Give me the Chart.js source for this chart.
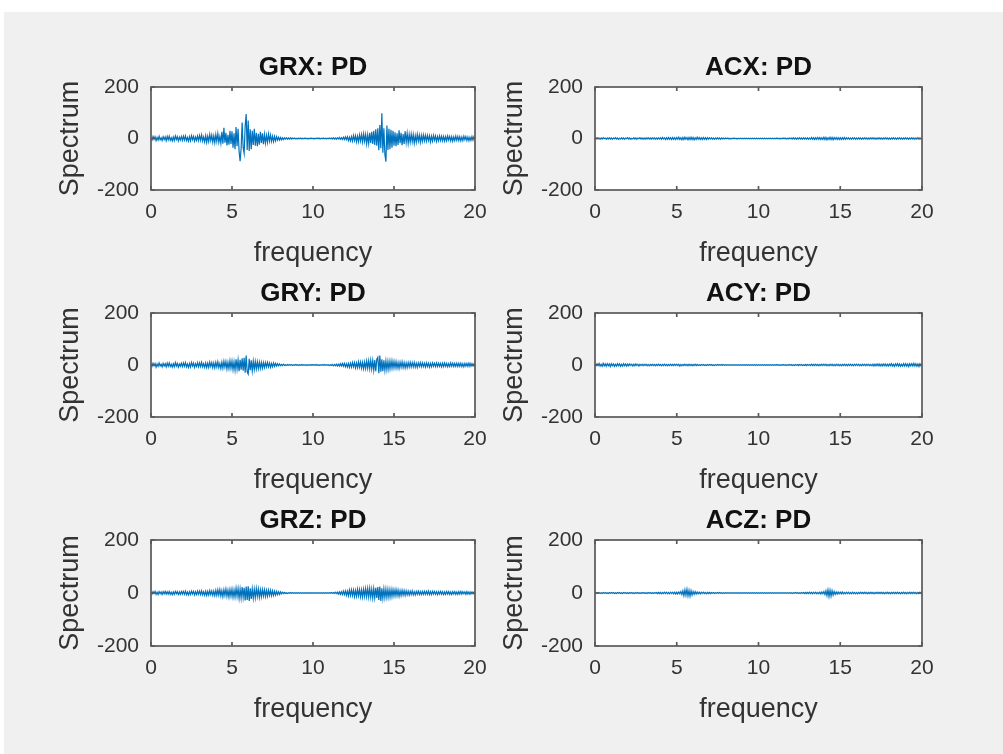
<!DOCTYPE html>
<html>
<head>
<meta charset="utf-8">
<script src="https://cdn.jsdelivr.net/npm/chart.js@4.4.1/dist/chart.umd.min.js"></script>
<style>
  body { margin: 0; background: #fff; width: 1003px; height: 754px; overflow: hidden; position: relative; }
  #panel { position: absolute; left: 4px; top: 12px; width: 999px; height: 742px; background: #f0f0f0; }
  canvas { position: absolute; }
</style>
</head>
<body>
<div id="panel"></div>
<canvas id="grx"></canvas>
<canvas id="acx"></canvas>
<canvas id="gry"></canvas>
<canvas id="acy"></canvas>
<canvas id="grz"></canvas>
<canvas id="acz"></canvas>
<script>
// frequency axis, one row per unit
const freq = [
  0, 0.0625, 0.125, 0.1875, 0.25, 0.3125, 0.375, 0.4375, 0.5, 0.5625, 0.625, 0.6875, 0.75, 0.8125, 0.875, 0.9375,
  1, 1.0625, 1.125, 1.1875, 1.25, 1.3125, 1.375, 1.4375, 1.5, 1.5625, 1.625, 1.6875, 1.75, 1.8125, 1.875, 1.9375,
  2, 2.0625, 2.125, 2.1875, 2.25, 2.3125, 2.375, 2.4375, 2.5, 2.5625, 2.625, 2.6875, 2.75, 2.8125, 2.875, 2.9375,
  3, 3.0625, 3.125, 3.1875, 3.25, 3.3125, 3.375, 3.4375, 3.5, 3.5625, 3.625, 3.6875, 3.75, 3.8125, 3.875, 3.9375,
  4, 4.0625, 4.125, 4.1875, 4.25, 4.3125, 4.375, 4.4375, 4.5, 4.5625, 4.625, 4.6875, 4.75, 4.8125, 4.875, 4.9375,
  5, 5.0625, 5.125, 5.1875, 5.25, 5.3125, 5.375, 5.4375, 5.5, 5.5625, 5.625, 5.6875, 5.75, 5.8125, 5.875, 5.9375,
  6, 6.0625, 6.125, 6.1875, 6.25, 6.3125, 6.375, 6.4375, 6.5, 6.5625, 6.625, 6.6875, 6.75, 6.8125, 6.875, 6.9375,
  7, 7.0625, 7.125, 7.1875, 7.25, 7.3125, 7.375, 7.4375, 7.5, 7.5625, 7.625, 7.6875, 7.75, 7.8125, 7.875, 7.9375,
  8, 8.0625, 8.125, 8.1875, 8.25, 8.3125, 8.375, 8.4375, 8.5, 8.5625, 8.625, 8.6875, 8.75, 8.8125, 8.875, 8.9375,
  9, 9.0625, 9.125, 9.1875, 9.25, 9.3125, 9.375, 9.4375, 9.5, 9.5625, 9.625, 9.6875, 9.75, 9.8125, 9.875, 9.9375,
  10, 10.0625, 10.125, 10.1875, 10.25, 10.3125, 10.375, 10.4375, 10.5, 10.5625, 10.625, 10.6875, 10.75, 10.8125, 10.875, 10.9375,
  11, 11.0625, 11.125, 11.1875, 11.25, 11.3125, 11.375, 11.4375, 11.5, 11.5625, 11.625, 11.6875, 11.75, 11.8125, 11.875, 11.9375,
  12, 12.0625, 12.125, 12.1875, 12.25, 12.3125, 12.375, 12.4375, 12.5, 12.5625, 12.625, 12.6875, 12.75, 12.8125, 12.875, 12.9375,
  13, 13.0625, 13.125, 13.1875, 13.25, 13.3125, 13.375, 13.4375, 13.5, 13.5625, 13.625, 13.6875, 13.75, 13.8125, 13.875, 13.9375,
  14, 14.0625, 14.125, 14.1875, 14.25, 14.3125, 14.375, 14.4375, 14.5, 14.5625, 14.625, 14.6875, 14.75, 14.8125, 14.875, 14.9375,
  15, 15.0625, 15.125, 15.1875, 15.25, 15.3125, 15.375, 15.4375, 15.5, 15.5625, 15.625, 15.6875, 15.75, 15.8125, 15.875, 15.9375,
  16, 16.0625, 16.125, 16.1875, 16.25, 16.3125, 16.375, 16.4375, 16.5, 16.5625, 16.625, 16.6875, 16.75, 16.8125, 16.875, 16.9375,
  17, 17.0625, 17.125, 17.1875, 17.25, 17.3125, 17.375, 17.4375, 17.5, 17.5625, 17.625, 17.6875, 17.75, 17.8125, 17.875, 17.9375,
  18, 18.0625, 18.125, 18.1875, 18.25, 18.3125, 18.375, 18.4375, 18.5, 18.5625, 18.625, 18.6875, 18.75, 18.8125, 18.875, 18.9375,
  19, 19.0625, 19.125, 19.1875, 19.25, 19.3125, 19.375, 19.4375, 19.5, 19.5625, 19.625, 19.6875, 19.75, 19.8125, 19.875, 19.9375,
  20
];

const grx = [
  1, -6, 8, -3, 7, -8, 4, -6, 9, -5, 3, -8, 7, -4, 6, -9,
  8, -5, 9, -7, 3, -9, 6, -8, 10, -4, 7, -9, 5, -6, 8, -7,
  9, -6, 10, -8, 4, -10, 7, -9, 11, -5, 8, -10, 6, -7, 10, -8,
  12, -7, 14, -10, 6, -13, 11, -15, 9, -12, 16, -8, 13, -14, 10, -16,
  15, -11, 19, -14, 8, -18, 26, -20, 42, -16, 22, -27, 14, -24, 30, -21,
  28, -36, 20, -42, 45, -30, 38, -50, -88, -40, 62, -35, -58, 48, 95, -45,
  70, -48, 36, -42, 30, -25, 38, -28, 22, -30, 18, -24, 26, -17, 20, -22,
  16, -18, 12, -15, 17, -10, 13, -11, 9, -12, 8, -9, 7, -6, 5, -6,
  4, -5, 3, -4, 3, -2, 3, -3, 2, -2, 3, -2, 2, -1, 2, -2,
  1, -2, 2, -1, 2, -2, 1, -1, 2, -1, 1, -2, 1, -1, 2, -1,
  1, -2, 1, -1, 2, -1, 2, -2, 1, -1, 2, -1, 1, -2, 1, -1,
  2, -1, 2, -2, 3, -2, 2, -3, 3, -2, 4, -3, 3, -4, 5, -4,
  6, -4, 7, -8, 5, -9, 7, -10, 12, -8, 11, -13, 9, -12, 14, -10,
  15, -13, 18, -11, 16, -20, 14, -19, 22, -17, 26, -21, 30, -25, 36, -28,
  40, -46, 52, -38, 98, -55, 40, -62, -90, 50, -45, 38, -42, 34, -36, 30,
  -28, 24, -30, 20, -25, 32, -18, 22, -26, 17, -21, 28, -15, 20, -18, 16,
  -14, 17, -12, 15, -18, 11, -14, 16, -10, 13, -15, 12, -11, 14, -9, 12,
  -10, 12, -8, 11, -13, 9, -10, 12, -7, 10, -11, 8, -9, 10, -8, 9,
  -9, 8, -10, 7, -9, 10, -6, 8, -9, 7, -10, 6, -8, 9, -7, 8,
  -8, 7, -9, 6, -8, 9, -5, 7, -8, 6, -9, 5, -7, 8, -6, 7,
  -3
];

const gry = [
  2, -5, 7, -3, 6, -8, 4, -5, 8, -4, 3, -7, 6, -4, 5, -7,
  7, -5, 8, -6, 3, -8, 5, -7, 9, -4, 6, -8, 4, -5, 7, -6,
  8, -5, 9, -7, 4, -9, 6, -8, 10, -4, 7, -9, 5, -6, 9, -7,
  8, -6, 10, -7, 5, -9, 8, -10, 7, -9, 11, -6, 9, -10, 8, -11,
  10, -8, 12, -10, 6, -13, 11, -12, 14, -9, 13, -15, 10, -14, 16, -12,
  15, -18, 12, -20, 22, -16, 19, -24, 20, -18, 26, -22, 28, -30, 36, -26,
  -35, 24, -20, 18, -22, 15, -17, 13, -15, 12, -14, 11, -13, 10, -12, 9,
  -10, 9, -8, 10, -7, 8, -9, 6, -7, 8, -5, 6, -4, 5, -3, 4,
  -3, 2, -2, 3, -2, 1, -2, 2, -1, 2, -1, 1, -2, 1, -1, 2,
  -1, 1, -2, 1, -1, 2, -1, 1, -1, 1, -2, 1, -1, 1, -1, 2,
  -1, 1, -1, 2, -1, 1, -2, 1, -1, 1, -1, 2, -1, 1, -1, 1,
  -2, 1, -2, 2, -3, 2, -3, 3, -4, 3, -4, 5, -4, 6, -5, 6,
  -7, 5, -8, 6, -9, 7, -8, 10, -7, 9, -11, 8, -10, 12, -9, 11,
  -12, 10, -14, 11, -13, 15, -12, 16, -14, 18, -15, 17, -20, 19, -24, 22,
  30, -32, 36, -26, 22, -24, 18, -20, 16, -18, 14, -17, 15, -13, 16, -12,
  14, -11, 13, -12, 10, -13, 11, -9, 12, -10, 9, -11, 8, -10, 9, -8,
  10, -8, 9, -7, 10, -8, 7, -9, 8, -6, 9, -7, 8, -6, 7, -8,
  8, -6, 7, -8, 6, -7, 8, -5, 7, -6, 8, -6, 7, -5, 6, -7,
  7, -6, 8, -5, 6, -7, 5, -6, 8, -5, 7, -6, 6, -5, 7, -6,
  6, -5, 7, -6, 5, -7, 6, -4, 6, -5, 7, -5, 6, -4, 5, -4,
  2
];

const grz = [
  1, -4, 5, -2, 6, -5, 3, -6, 5, -3, 4, -6, 5, -3, 6, -4,
  5, -4, 6, -5, 3, -6, 4, -5, 6, -3, 5, -6, 4, -5, 6, -4,
  6, -5, 7, -6, 4, -7, 5, -6, 7, -4, 6, -7, 5, -6, 7, -5,
  7, -6, 8, -7, 5, -8, 7, -9, 6, -8, 9, -6, 8, -9, 7, -10,
  10, -9, 12, -8, 13, -11, 9, -14, 12, -10, 15, -12, 11, -15, 13, -12,
  14, -16, 12, -15, 18, -13, 17, -20, 15, -19, 22, -17, 20, -28, 24, -26,
  25, -30, 18, -22, 16, -20, 14, -18, 17, -13, 15, -16, 12, -14, 13, -11,
  12, -13, 10, -12, 11, -9, 10, -10, 8, -9, 7, -8, 6, -6, 5, -5,
  4, -3, 3, -2, 2, -2, 1, -2, 1, -1, 2, -1, 1, -1, 1, -1,
  1, -1, 1, -1, 1, -1, 1, -1, 1, -1, 1, -1, 1, -1, 1, -1,
  1, -1, 1, -1, 1, -1, 1, -1, 1, -1, 1, -1, 1, -1, 1, -1,
  1, -1, 2, -1, 2, -2, 3, -2, 3, -4, 4, -5, 5, -6, 7, -6,
  8, -9, 7, -10, 11, -9, 12, -10, 11, -13, 10, -12, 14, -11, 13, -14,
  12, -15, 14, -13, 16, -14, 17, -15, 18, -16, 15, -19, 17, -18, 20, -19,
  22, -26, 24, -30, 18, -20, 16, -18, 15, -17, 14, -16, 13, -15, 14, -12,
  12, -11, 13, -10, 11, -12, 9, -10, 10, -8, 9, -9, 8, -7, 7, -8,
  7, -6, 8, -7, 5, -7, 6, -5, 7, -6, 5, -6, 6, -5, 6, -5,
  6, -5, 7, -6, 5, -6, 6, -4, 6, -5, 5, -6, 5, -4, 6, -5,
  5, -6, 4, -5, 6, -4, 5, -5, 4, -6, 5, -4, 5, -5, 4, -5,
  5, -4, 6, -4, 5, -3, 4, -5, 5, -4, 4, -5, 4, -3, 4, -3,
  2
];

const acx = [
  1, -2, 3, -1, 2, -3, 2, -2, 3, -1, 2, -3, 2, -2, 3, -2,
  2, -3, 2, -1, 3, -2, 2, -3, 1, -2, 3, -2, 2, -3, 2, -1,
  3, -2, 2, -3, 1, -2, 3, -2, 2, -3, 2, -1, 3, -2, 2, -3,
  2, -3, 3, -2, 3, -2, 2, -3, 3, -2, 3, -3, 2, -3, 3, -2,
  3, -3, 4, -2, 3, -4, 3, -3, 4, -3, 3, -4, 4, -3, 3, -4,
  4, -3, 5, -4, 3, -5, 4, -4, 5, -3, 4, -5, 4, -4, 5, -4,
  4, -5, 3, -4, 5, -3, 4, -4, 3, -4, 4, -3, 3, -4, 3, -3,
  3, -2, 3, -3, 2, -3, 2, -2, 3, -2, 2, -3, 2, -2, 2, -2,
  2, -1, 2, -2, 1, -2, 1, -1, 2, -1, 1, -2, 1, -1, 1, -1,
  1, -1, 1, -1, 1, -1, 1, -1, 1, -1, 1, -1, 1, -1, 1, -1,
  1, -1, 1, -1, 1, -1, 1, -1, 1, -1, 1, -1, 1, -1, 1, -1,
  1, -1, 2, -1, 1, -2, 1, -1, 2, -1, 2, -2, 1, -2, 2, -1,
  2, -2, 3, -2, 2, -3, 2, -2, 3, -2, 2, -3, 3, -2, 2, -3,
  3, -3, 2, -3, 4, -3, 3, -4, 3, -3, 4, -3, 4, -4, 3, -4,
  5, -4, 4, -5, 3, -4, 5, -4, 4, -5, 4, -3, 4, -4, 3, -4,
  3, -4, 3, -3, 4, -3, 3, -2, 3, -3, 2, -3, 3, -2, 3, -3,
  2, -3, 3, -2, 2, -3, 2, -2, 3, -2, 2, -3, 2, -2, 3, -2,
  3, -2, 2, -3, 2, -2, 3, -2, 2, -3, 2, -2, 3, -2, 2, -3,
  2, -3, 2, -2, 3, -2, 2, -3, 2, -2, 3, -2, 2, -3, 2, -2,
  3, -2, 2, -3, 2, -2, 3, -2, 2, -3, 2, -2, 3, -2, 2, -2,
  1
];

const acy = [
  1, -3, 5, -2, 6, -4, 3, -5, 6, -3, 4, -5, 5, -3, 4, -6,
  5, -3, 4, -5, 3, -4, 5, -3, 4, -5, 3, -4, 5, -3, 4, -4,
  4, -3, 4, -2, 3, -4, 3, -3, 4, -2, 3, -4, 3, -2, 3, -3,
  3, -2, 3, -3, 2, -3, 2, -2, 3, -2, 2, -3, 2, -2, 3, -2,
  2, -3, 2, -2, 3, -2, 2, -3, 2, -2, 3, -2, 2, -2, 3, -2,
  3, -2, 3, -4, 2, -3, 2, -2, 3, -2, 2, -3, 3, -2, 2, -3,
  2, -2, 3, -2, 2, -2, 1, -2, 2, -1, 2, -2, 1, -2, 2, -1,
  2, -1, 2, -2, 1, -2, 1, -1, 2, -1, 1, -1, 2, -1, 1, -1,
  1, -1, 1, -1, 1, -1, 1, -1, 1, -1, 1, -1, 1, -1, 1, -1,
  1, -1, 1, -1, 1, -1, 1, -1, 1, -1, 1, -1, 1, -1, 1, -1,
  1, -1, 1, -1, 1, -1, 1, -1, 1, -1, 1, -1, 1, -1, 1, -1,
  1, -1, 2, -1, 1, -2, 1, -1, 2, -1, 1, -2, 1, -1, 2, -1,
  2, -2, 1, -2, 2, -1, 2, -2, 2, -1, 2, -2, 1, -2, 2, -2,
  2, -1, 2, -2, 3, -2, 2, -2, 3, -2, 2, -3, 2, -2, 3, -2,
  3, -2, 3, -3, 2, -3, 3, -2, 3, -3, 2, -3, 3, -2, 3, -3,
  2, -3, 2, -2, 3, -2, 2, -3, 3, -2, 3, -2, 2, -3, 3, -2,
  3, -2, 3, -3, 2, -3, 3, -2, 3, -3, 3, -2, 3, -3, 2, -3,
  3, -4, 3, -3, 4, -3, 4, -4, 3, -4, 4, -3, 4, -4, 3, -4,
  4, -3, 5, -4, 3, -5, 4, -3, 5, -4, 4, -5, 3, -4, 5, -4,
  5, -4, 4, -6, 5, -3, 5, -4, 6, -4, 5, -5, 4, -6, 5, -3,
  1
];

const acz = [
  1, -2, 2, -1, 2, -2, 1, -2, 2, -1, 2, -2, 1, -2, 2, -1,
  2, -1, 2, -2, 1, -2, 2, -1, 2, -2, 1, -2, 2, -1, 2, -2,
  1, -2, 2, -1, 2, -2, 1, -2, 2, -1, 2, -2, 1, -2, 2, -1,
  2, -2, 1, -2, 2, -1, 2, -2, 1, -2, 2, -1, 2, -2, 2, -2,
  2, -3, 2, -2, 3, -2, 3, -3, 2, -3, 3, -2, 3, -3, 3, -4,
  3, -4, 4, -3, 5, -6, 8, -10, 12, -9, 14, -11, 10, -12, 9, -8,
  6, -5, 5, -4, 4, -3, 3, -3, 3, -2, 3, -2, 2, -3, 2, -2,
  2, -2, 2, -1, 2, -2, 1, -1, 2, -1, 2, -1, 1, -2, 1, -1,
  1, -1, 1, -1, 1, -1, 1, -1, 1, -1, 1, -1, 1, -1, 1, -1,
  1, -1, 1, -1, 1, -1, 1, -1, 1, -1, 1, -1, 1, -1, 1, -1,
  1, -1, 1, -1, 1, -1, 1, -1, 1, -1, 1, -1, 1, -1, 1, -1,
  1, -1, 1, -1, 1, -1, 1, -1, 1, -1, 1, -1, 1, -1, 1, -1,
  1, -2, 1, -1, 2, -1, 2, -2, 1, -2, 2, -1, 2, -2, 2, -2,
  2, -2, 3, -2, 2, -3, 3, -2, 3, -3, 2, -3, 3, -4, 4, -3,
  5, -6, 8, -10, 12, -13, 10, -12, 9, -8, 6, -5, 4, -4, 4, -3,
  3, -3, 4, -3, 2, -3, 3, -2, 3, -3, 2, -3, 3, -2, 2, -3,
  2, -3, 2, -2, 3, -2, 2, -2, 3, -2, 2, -3, 2, -2, 3, -2,
  2, -3, 2, -2, 3, -2, 2, -2, 3, -2, 2, -3, 2, -2, 3, -2,
  2, -3, 2, -2, 3, -2, 2, -2, 3, -2, 2, -3, 2, -2, 3, -2,
  2, -3, 2, -2, 3, -2, 2, -2, 3, -2, 2, -3, 2, -2, 3, -2,
  1
];

const xTicks = [0, 5, 10, 15, 20];
const yTicks = [-200, 0, 200];
const xLabel = "frequency";
const yLabel = "Spectrum";

// room around each axes box inside its own canvas
const LEFT = 110, TOP = 44, BOTTOM = 80, RIGHT = 26;
const FONT = "'Liberation Sans', Arial, Helvetica, sans-serif";

const boxPlugin = {
  id: "matlabBox",
  beforeDraw(chart) {
    const a = chart.chartArea;
    chart.ctx.save();
    chart.ctx.fillStyle = "#ffffff";
    chart.ctx.fillRect(a.left, a.top, a.right - a.left, a.bottom - a.top);
    chart.ctx.restore();
  },
  afterDatasetsDraw(chart) {
    const ctx = chart.ctx;
    const a = chart.chartArea;
    const sx = chart.scales.x, sy = chart.scales.y;
    ctx.save();
    ctx.strokeStyle = "#5a5a5a";
    ctx.lineWidth = 1.7;
    ctx.strokeRect(a.left, a.top, a.right - a.left, a.bottom - a.top);
    ctx.beginPath();
    xTicks.forEach(function (v) {
      const px = sx.getPixelForValue(v);
      ctx.moveTo(px, a.top); ctx.lineTo(px, a.top + 4);
      ctx.moveTo(px, a.bottom); ctx.lineTo(px, a.bottom - 4);
    });
    yTicks.forEach(function (v) {
      const py = sy.getPixelForValue(v);
      ctx.moveTo(a.left, py); ctx.lineTo(a.left + 4, py);
      ctx.moveTo(a.right, py); ctx.lineTo(a.right - 4, py);
    });
    ctx.stroke();
    ctx.restore();
  }
};

function makePlot(id, title, values, box) {
  const canvas = document.getElementById(id);
  canvas.width = LEFT + box.w + RIGHT;
  canvas.height = TOP + box.h + BOTTOM;
  canvas.style.left = (box.x - LEFT) + "px";
  canvas.style.top = (box.y - TOP) + "px";

  const points = freq.map(function (f, i) { return { x: f, y: values[i] }; });

  return new Chart(canvas, {
    type: "line",
    data: {
      datasets: [{
        data: points,
        borderColor: "#0072BD",
        borderWidth: 1.2,
        pointRadius: 0,
        tension: 0,
        fill: false,
        xAxisID: "x",
        yAxisID: "y"
      }]
    },
    options: {
      responsive: false,
      animation: false,
      layout: { padding: { left: 0, right: RIGHT, top: 0, bottom: 0 } },
      plugins: {
        legend: { display: false },
        tooltip: { enabled: false },
        title: { display: false }
      },
      scales: {
        x: {
          type: "linear",
          position: "bottom",
          min: 0,
          max: 20,
          afterBuildTicks: function (s) { s.ticks = xTicks.map(function (v) { return { value: v }; }); },
          afterFit: function (s) { s.height = BOTTOM; },
          ticks: { color: "#333", font: { family: FONT, size: 21 }, padding: 10, maxRotation: 0, autoSkip: false },
          grid: { display: false, drawTicks: false },
          border: { display: false },
          title: {
            display: true,
            text: xLabel,
            color: "#333",
            font: { family: FONT, size: 27 },
            padding: { top: 0, bottom: 0 }
          }
        },
        // top axis only carries the subplot title, centred over the box
        top: {
          type: "linear",
          position: "top",
          min: 0,
          max: 20,
          afterFit: function (s) { s.height = TOP; },
          ticks: { display: false },
          grid: { display: false, drawTicks: false },
          border: { display: false },
          title: {
            display: true,
            text: title,
            color: "#111",
            font: { family: FONT, size: 26, weight: "bold" },
            padding: { top: 9, bottom: 0 }
          }
        },
        y: {
          type: "linear",
          min: -200,
          max: 200,
          afterBuildTicks: function (s) { s.ticks = yTicks.map(function (v) { return { value: v }; }); },
          afterFit: function (s) { s.width = LEFT; },
          ticks: { color: "#333", font: { family: FONT, size: 21 }, padding: 12 },
          grid: { display: false, drawTicks: false },
          border: { display: false },
          title: {
            display: true,
            text: yLabel,
            color: "#333",
            font: { family: FONT, size: 27 },
            padding: { top: 13, bottom: 0 }
          }
        }
      }
    },
    plugins: [boxPlugin]
  });
}

makePlot("grx", "GRX: PD", grx, { x: 151, y: 87, w: 324, h: 103 });
makePlot("acx", "ACX: PD", acx, { x: 595, y: 87, w: 327, h: 103 });
makePlot("gry", "GRY: PD", gry, { x: 151, y: 313, w: 324, h: 104 });
makePlot("acy", "ACY: PD", acy, { x: 595, y: 313, w: 327, h: 104 });
makePlot("grz", "GRZ: PD", grz, { x: 151, y: 540, w: 324, h: 106 });
makePlot("acz", "ACZ: PD", acz, { x: 595, y: 540, w: 327, h: 106 });
</script>
</body>
</html>
